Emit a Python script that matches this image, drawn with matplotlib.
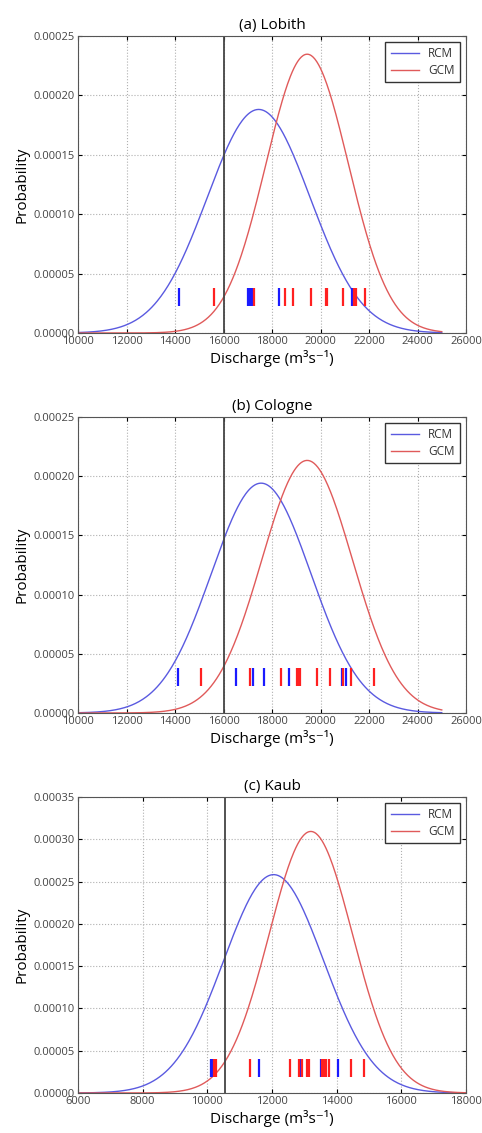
"""
Discharge probability plots (RCM vs GCM) for three Rhine gauges.
"""

import numpy as np
import matplotlib.pyplot as plt

# ---- data ------------------------------------------------------------------
stations = ["(a) Lobith", "(b) Cologne", "(c) Kaub"]

# threshold / observed discharge (black vertical line)
threshold = [16000, 16000, 10550]

# fitted normal distributions (mean, sd)
rcm_mean = [17450, 17550, 12050]
rcm_sd = [2120, 2055, 1545]
gcm_mean = [19450, 19450, 13200]
gcm_sd = [1700, 1870, 1290]

# individual ensemble members (rug marks)
rcm_members = [
    [14150, 17020, 17090, 17160, 18300, 21300],
    [14140, 16520, 17200, 17680, 18690, 20890, 21050],
    [10100, 10155, 11585, 12880, 13500, 14050],
]
gcm_members = [
    [15610, 17260, 18520, 18880, 19600, 20210, 20280, 20910, 21390, 21460, 21840],
    [15060, 17090, 18390, 19040, 19100, 19160, 19860, 20380, 20940, 21260, 22210],
    [10210, 10280, 11315, 12570, 12820, 12935, 13080, 13130, 13560, 13610,
     13660, 13760, 14450, 14845],
]

# axis settings
x_limits = [(10000, 26000), (10000, 26000), (6000, 18000)]
curve_range = [(10000, 25000), (10000, 25000), (6000, 18000)]
y_max = [0.00025, 0.00025, 0.00035]

# axes boxes in pixels: (top, bottom)
panel_px = [(36, 333), (417, 713), (797, 1093)]

FIG_W, FIG_H = 482, 1133
LEFT, RIGHT = 78, 466

plt.rcParams["font.family"] = ["Open Sans", "DejaVu Sans"]

fig = plt.figure(figsize=(FIG_W / 100, FIG_H / 100), dpi=100)


def normal_pdf(x, mu, sd):
    return np.exp(-0.5 * ((x - mu) / sd) ** 2) / (sd * np.sqrt(2 * np.pi))


for i, name in enumerate(stations):
    top, bottom = panel_px[i]
    ax = fig.add_axes([
        LEFT / FIG_W,
        1 - bottom / FIG_H,
        (RIGHT - LEFT) / FIG_W,
        (bottom - top) / FIG_H,
    ])

    x = np.linspace(curve_range[i][0], curve_range[i][1], 400)
    ax.plot(x, normal_pdf(x, rcm_mean[i], rcm_sd[i]), color="#5a5ae0", lw=1.0, label="RCM")
    ax.plot(x, normal_pdf(x, gcm_mean[i], gcm_sd[i]), color="#e05a5a", lw=1.0, label="GCM")

    # rug marks for ensemble members
    ax.plot(rcm_members[i], [3e-5] * len(rcm_members[i]), linestyle="none",
            marker="|", ms=13, mew=1.6, color="#1a1aff")
    ax.plot(gcm_members[i], [3e-5] * len(gcm_members[i]), linestyle="none",
            marker="|", ms=13, mew=1.6, color="#ff2020")

    ax.axvline(threshold[i], color="#444444", lw=1.3)

    ax.set_xlim(*x_limits[i])
    ax.set_ylim(0, y_max[i])
    ax.set_yticks(np.arange(0, y_max[i] + 1e-9, 0.00005))
    ax.yaxis.set_major_formatter(plt.FuncFormatter(lambda v, p: f"{v:.5f}"))
    ax.set_xticks(np.arange(x_limits[i][0], x_limits[i][1] + 1, 2000))

    ax.grid(True, color="#b0b0b0", linestyle=":", lw=0.8)
    ax.tick_params(labelsize=8, labelcolor="#444444", length=3, direction="in",
                   top=True, right=True, pad=2.5)
    for s in ax.spines.values():
        s.set_color("#555555")

    ax.set_title(name, fontsize=11, pad=5)
    ax.set_xlabel("Discharge (m³s⁻¹)", fontsize=11, labelpad=2)
    ax.set_ylabel("Probability", fontsize=11, labelpad=3)

    leg = ax.legend(loc="upper right", fontsize=8.5, fancybox=False, framealpha=1,
                    handlelength=2.4, borderpad=0.45, labelspacing=0.3,
                    alignment="right")
    leg.get_frame().set_edgecolor("#333333")
    for t in leg.get_texts():
        t.set_color("#333333")

plt.savefig("out.png", dpi=100)
plt.close()
